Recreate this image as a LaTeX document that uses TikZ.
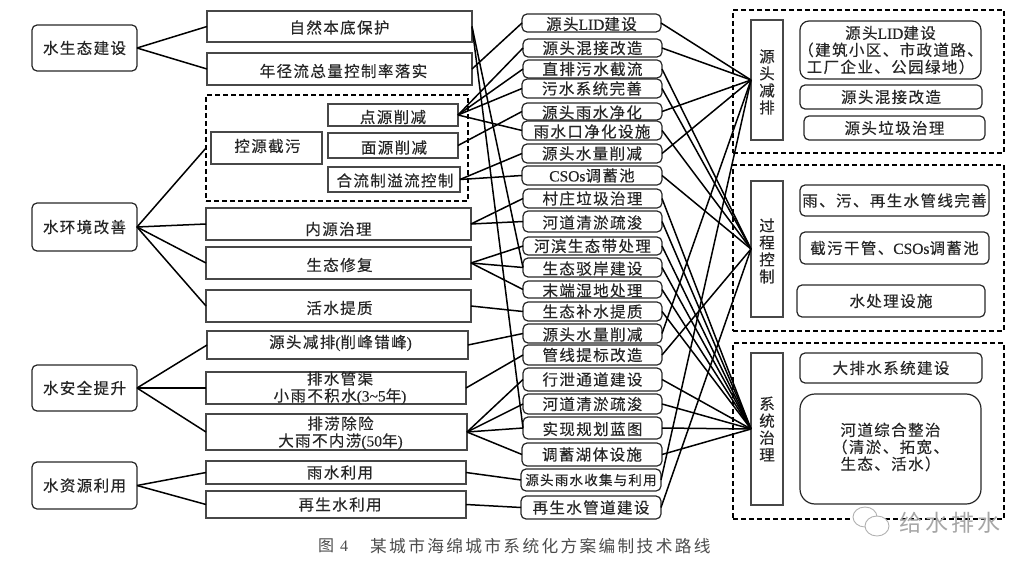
\documentclass[tikz,border=0pt]{standalone}
\usepackage{fontspec}
\newfontfamily\cjk[LetterSpace=9,FakeBold=0.35]{Noto Sans CJK SC}
\newfontfamily\cjkplain[LetterSpace=14]{Noto Sans CJK SC}
\newfontfamily\lat[FakeBold=0.35]{Liberation Serif}
\newcommand\bx[9]{%
  \pgfmathsetmacro\cxv{(#3+#5)/2}\pgfmathsetmacro\cyv{(#4+#6)/2}%
  \pgfmathsetmacro\wdv{#5-#3}\pgfmathsetmacro\htv{#6-#4}%
  \node[#1,minimum width=\wdv pt,minimum height=\htv pt,
    label={[lab,xshift=#7pt,yshift=#8pt]center:{#9}}] (#2) at (\cxv,\cyv) {};}
\tikzset{
  lab/.style={font=\fontsize{15.5}{17}\selectfont\cjk,align=center,inner sep=0pt,text=black!85},
  rct/.style={draw=black!72,line width=1.3pt,inner sep=0pt,outer sep=0pt},
  rnd/.style={draw=black!85,line width=1.2pt,rounded corners=5pt,inner sep=0pt,outer sep=0pt},
  rndb/.style={rnd,rounded corners=9pt},
  rndc/.style={rnd,rounded corners=15pt},
  dsh/.style={draw=black,line width=1.7pt,dash pattern=on 5pt off 3pt,inner sep=0pt,outer sep=0pt},
  conn/.style={draw=black,line width=1.5pt},
}
\begin{document}
\begin{tikzpicture}[x=1pt,y=-1pt]
\useasboundingbox (0,0) rectangle (1031,567);
% left categories
\bx{rnd}{c1}{32}{25}{137}{71}{0}{0}{水生态建设}
\bx{rnd}{c2}{32}{203}{137}{251}{0}{0}{水环境改善}
\bx{rnd}{c3}{32}{365}{137}{411}{0}{0}{水安全提升}
\bx{rnd}{c4}{32}{462}{137}{509}{0}{0}{水资源利用}
% second column
\bx{rct}{a1}{207}{11}{472}{42}{0}{-1}{自然本底保护}
\bx{rct}{a2}{207}{53}{472}{85}{4}{-2}{年径流总量控制率落实}
\bx{dsh}{dbox}{206}{95}{468}{201}{0}{0}{}
\bx{rct}{a3}{211}{132}{322}{164}{1}{2}{控源截污}
\bx{rct}{a3a}{328}{104}{458}{126}{0}{-2}{点源削减}
\bx{rct}{a3b}{328}{133}{458}{158}{1}{-2}{面源削减}
\bx{rct}{a3c}{328}{167}{460}{192}{1}{-1}{合流制溢流控制}
\bx{rct}{a4}{206}{208}{471}{240}{0}{-5}{内源治理}
\bx{rct}{a5}{206}{247}{471}{279}{1}{-2}{生态修复}
\bx{rct}{a6}{206}{290}{471}{322}{1}{-2}{活水提质}
\bx{rct}{a7}{207}{331}{468}{359}{3}{2}{源头减排{\lat(}削峰错峰{\lat)}}
\bx{rct}{a8}{206}{372}{466}{404}{4}{0}{排水管渠\\小雨不积水{\lat(3\textasciitilde5}年{\lat)}}
\bx{rct}{a9}{206}{414}{467}{450}{4}{-1}{排涝除险\\大雨不内涝{\lat(50}年{\lat)}}
\bx{rct}{a10}{206}{461}{466}{484}{4}{0}{雨水利用}
\bx{rct}{a11}{206}{491}{466}{518}{4}{0}{再生水利用}
% middle column
\bx{rnd}{m1}{522}{14}{661}{32}{0}{-1}{源头{\lat LID}建设}
\bx{rnd}{m2}{523}{39}{662}{57}{0}{0}{源头混接改造}
\bx{rnd}{m3}{523}{60}{662}{78}{0}{0}{直排污水截流}
\bx{rnd}{m4}{522}{79}{662}{98}{0}{0}{污水系统完善}
\bx{rnd}{m5}{522}{103}{662}{120}{0}{-1}{源头雨水净化}
\bx{rnd}{m6}{522}{121}{662}{140}{0}{-1}{雨水口净化设施}
\bx{rnd}{m7}{522}{144}{662}{163}{0}{0}{源头水量削减}
\bx{rnd}{m8}{522}{166}{662}{185}{0}{0}{{\lat CSOs}调蓄池}
\bx{rnd}{m9}{523}{189}{662}{208}{0}{0}{村庄垃圾治理}
\bx{rnd}{m10}{523}{211}{662}{232}{0}{-1}{河道清淤疏浚}
\bx{rnd}{m11}{523}{237}{662}{255}{0}{0}{河滨生态带处理}
\bx{rnd}{m12}{523}{258}{662}{277}{0}{-1}{生态驳岸建设}
\bx{rnd}{m13}{523}{281}{662}{298}{0}{-1}{末端湿地处理}
\bx{rnd}{m14}{523}{302}{662}{321}{0}{0}{生态补水提质}
\bx{rnd}{m15}{523}{324}{662}{343}{0}{-1}{源头水量削减}
\bx{rnd}{m16}{523}{345}{662}{365}{0}{0}{管线提标改造}
\bx{rnd}{m17}{523}{368}{662}{391}{0}{0}{行泄通道建设}
\bx{rnd}{m18}{523}{394}{662}{414}{0}{0}{河道清淤疏浚}
\bx{rnd}{m19}{523}{417}{662}{439}{0}{-1}{实现规划蓝图}
\bx{rnd}{m20}{522}{443}{662}{466}{0}{0}{调蓄湖体设施}
\bx{rnd}{m21}{521}{469}{661}{491}{0}{0}{{\fontsize{13.5}{15}\selectfont 源头雨水收集与利用}}
\bx{rnd}{m22}{521}{496}{661}{519}{0}{0}{再生水管道建设}
% right panels
\bx{dsh}{p1}{733}{10}{1004}{153}{0}{0}{}
\bx{dsh}{p2}{733}{165}{1004}{331}{0}{0}{}
\bx{dsh}{p3}{733}{343}{1004}{519}{0}{0}{}
\bx{rct}{r1}{751}{20}{783}{140}{0}{-2}{源\\头\\减\\排}
\bx{rct}{r2}{751}{181}{783}{317}{0}{-2}{过\\程\\控\\制}
\bx{rct}{r3}{751}{353}{783}{505}{0}{0}{系\\统\\治\\理}
\bx{rndb}{s1}{800}{21}{981}{79}{0}{0}{源头{\lat LID}建设\\（建筑小区、市政道路、\\工厂企业、公园绿地）}
\bx{rnd}{s2}{800}{85}{982}{109}{0}{0}{源头混接改造}
\bx{rnd}{s3}{804}{116}{985}{140}{0}{0}{源头垃圾治理}
\bx{rnd}{s4}{800}{185}{989}{216}{0}{0}{雨、污、再生水管线完善}
\bx{rnd}{s5}{800}{232}{989}{264}{0}{0}{截污干管、{\lat CSOs}调蓄池}
\bx{rnd}{s6}{797}{285}{985}{317}{0}{0}{水处理设施}
\bx{rnd}{s7}{800}{353}{982}{383}{0}{0}{大排水系统建设}
\bx{rndc}{s8}{800}{394}{981}{504}{0}{2}{河道综合整治\\（清淤、拓宽、\\生态、活水）}
% connectors: left
\foreach \t in {a1,a2} \draw[conn] (c1.east) -- (\t.west);
\foreach \t in {dbox,a4,a5,a6} \draw[conn] (c2.east) -- (\t.west);
\foreach \t in {a7,a8,a9} \draw[conn] (c3.east) -- (\t.west);
\foreach \t in {a10,a11} \draw[conn] (c4.east) -- (\t.west);
% connectors: second to middle
\foreach \f/\t in {a1/m12,a1/m19,a2/m1,a3a/m2,a3a/m3,a3a/m4,a3a/m6,a3b/m5,a3c/m7,a3c/m8,
  a4/m9,a4/m10,a5/m11,a5/m12,a5/m13,a6/m14,a7/m15,a8/m16,a9/m17,a9/m18,a9/m19,a9/m20,a10/m21,a11/m22}
  \draw[conn] (\f.east) -- (\t.west);
% connectors: middle to right
\foreach \f in {m1,m2,m5,m7,m15,m21} \draw[conn] (\f.east) -- (r1.west);
\foreach \f in {m3,m4,m6,m8,m16,m22} \draw[conn] (\f.east) -- (r2.west);
\foreach \f in {m9,m10,m11,m12,m13,m14,m17,m18,m19,m20} \draw[conn] (\f.east) -- (r3.west);
% caption
\node[font=\fontsize{16}{18}\selectfont\cjkplain,text=black!70,anchor=west,inner sep=0pt] (cap) at (318,546) {图 {\fontspec{Liberation Serif}4}};
\node[font=\fontsize{16.7}{18}\selectfont\cjkplain,text=black!70,anchor=west,inner sep=0pt] (cap2) at (370,546) {某城市海绵城市系统化方案编制技术路线};
% watermark
\draw[black!30,line width=.9pt,fill=white] (865,517) ellipse (12 and 10);
\draw[black!30,line width=.9pt,fill=white] (877,526) ellipse (12 and 10);
\node[font=\fontsize{23}{25}\selectfont\cjkplain,text=black!35,anchor=west,inner sep=0pt] (wm) at (899,523) {给水排水};
\end{tikzpicture}
\end{document}
